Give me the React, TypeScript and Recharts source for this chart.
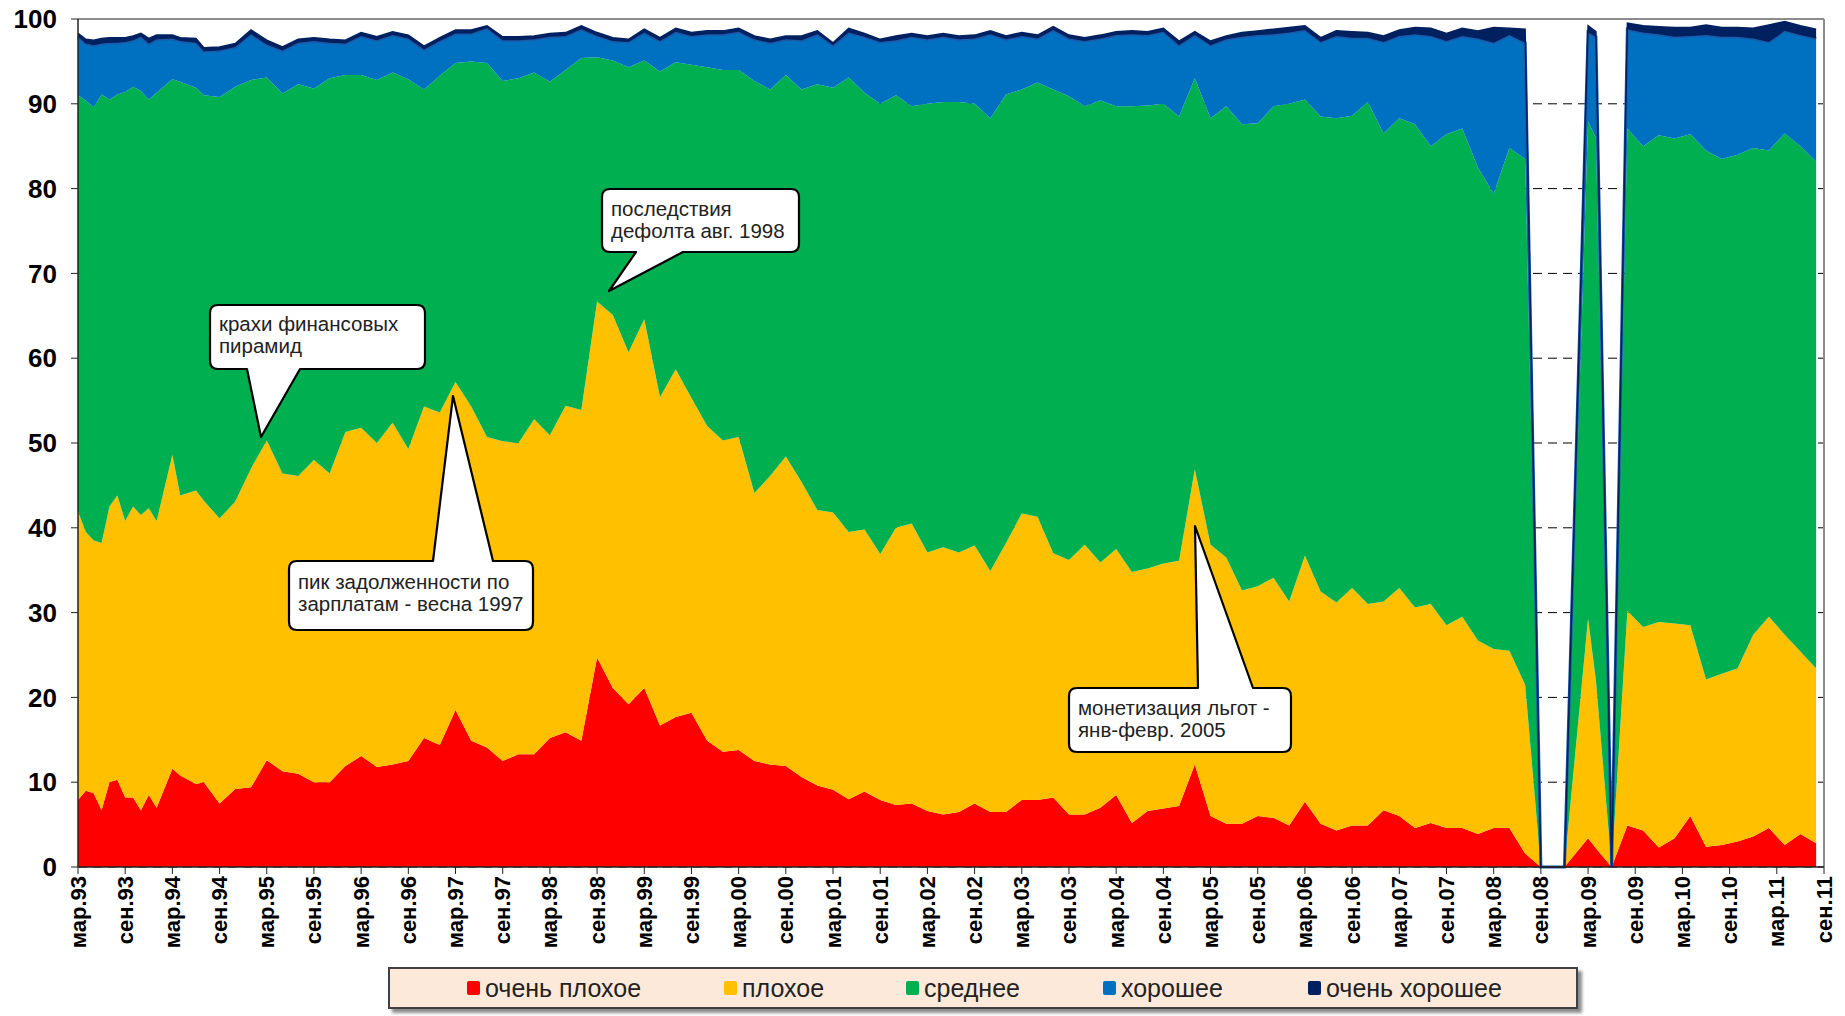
import { Area, AreaChart, CartesianGrid, ReferenceLine, XAxis, YAxis } from 'recharts';

const FONT = '"Liberation Sans", Arial, sans-serif';

// months counted from March 1993
const months = [
  0, 1, 2, 3, 4, 5, 6, 7, 8, 9, 10, 12, 13, 15, 16,
  18, 20, 22, 24, 26, 28, 30, 32, 34, 36, 38, 40, 42, 44, 46, 48, 50, 52, 54, 56,
  58, 60, 62, 64, 66, 68, 70, 72, 74, 76, 78, 80, 82, 84, 86, 88, 90, 92, 94, 96, 98, 100,
  102, 104, 106, 108, 110, 112, 114, 116, 118, 120, 122, 124, 126, 128, 130, 132, 134, 136, 138, 140,
  142, 144, 146, 148, 150, 152, 154, 156, 158, 160, 162, 164, 166, 168, 170, 172, 174, 176, 178, 180, 182, 184,
  186, 189, 192, 193, 195,
  197, 199, 201, 203, 205, 207, 209, 211, 213, 215, 217, 219, 221,
];

const veryBad = [
  7.9, 9.0, 8.7, 6.7, 10.0, 10.3, 8.2, 8.2, 6.7, 8.5, 7.0, 11.6, 10.8, 9.8, 10.0,
  7.5, 9.2, 9.4, 12.6, 11.3, 11.0, 10.0, 10.0, 11.9, 13.1, 11.8, 12.1, 12.5, 15.2, 14.4, 18.5, 14.9, 14.1, 12.5, 13.3,
  13.3, 15.2, 15.9, 14.9, 24.7, 21.1, 19.2, 21.1, 16.7, 17.7, 18.2, 14.9, 13.6, 13.8, 12.5, 12.1, 11.9, 10.6, 9.6, 9.1, 8.0, 8.9,
  7.9, 7.3, 7.5, 6.6, 6.2, 6.5, 7.5, 6.5, 6.5, 7.9, 7.9, 8.2, 6.2, 6.2, 7.0, 8.5, 5.2, 6.6, 6.9, 7.2,
  12.1, 6.0, 5.1, 5.1, 6.0, 5.8, 4.9, 7.7, 5.1, 4.3, 4.9, 4.9, 6.7, 6.0, 4.6, 5.2, 4.6, 4.6, 3.9, 4.6, 4.6, 1.6,
  0, 0, 3.4, 2.2, 0,
  4.9, 4.3, 2.3, 3.4, 6.0, 2.4, 2.6, 3.0, 3.6, 4.6, 2.6, 3.9, 2.8,
];

const bad = [
  34.0, 30.5, 29.8, 31.5, 32.5, 33.5, 32.6, 34.3, 34.8, 33.8, 33.8, 37.0, 33.0, 34.6, 33.2,
  33.6, 33.9, 37.6, 37.7, 35.1, 35.1, 38.0, 36.4, 39.4, 38.7, 38.2, 40.3, 36.8, 39.1, 39.2, 38.7, 39.4, 36.6, 37.7, 36.7,
  39.5, 35.7, 38.5, 39.0, 42.0, 44.0, 41.5, 43.5, 38.7, 41.0, 37.1, 37.1, 36.7, 36.9, 31.6, 34.0, 36.5, 34.8, 32.5, 32.7, 31.5, 30.9,
  29.0, 32.7, 33.0, 30.5, 31.5, 30.6, 30.4, 28.4, 31.7, 33.8, 33.4, 28.8, 30.0, 31.8, 28.9, 29.0, 29.6, 28.6, 28.9, 28.9,
  34.8, 32.0, 31.4, 27.5, 27.1, 28.3, 26.4, 29.0, 27.4, 26.9, 28.0, 26.1, 24.6, 26.9, 26.0, 25.8, 23.9, 24.9, 22.8, 21.1, 20.9, 19.9,
  0, 0, 25.9, 19.8, 0,
  25.3, 24.0, 26.6, 25.3, 22.5, 19.7, 20.2, 20.4, 23.8, 24.9, 24.8, 21.5, 20.6,
];

const average = [
  49.1, 50.9, 51.1, 52.9, 48.0, 47.3, 50.6, 49.5, 50.0, 48.2, 50.5, 44.3, 48.8, 47.5, 47.8,
  49.7, 48.9, 45.8, 42.8, 44.8, 46.2, 43.8, 46.6, 42.1, 41.6, 42.8, 41.3, 43.6, 37.4, 39.7, 37.6, 40.7, 44.1, 42.5, 43.0,
  40.9, 41.7, 39.6, 41.5, 28.8, 30.0, 33.6, 30.5, 38.4, 36.2, 39.3, 42.3, 43.7, 43.3, 48.6, 45.6, 45.0, 46.3, 50.2, 50.1, 53.6, 51.5,
  53.1, 51.0, 49.2, 52.9, 52.5, 53.1, 52.1, 53.4, 52.9, 50.0, 51.2, 54.7, 54.7, 51.7, 54.5, 52.2, 54.9, 54.6, 54.2, 52.4,
  46.1, 50.3, 53.2, 55.0, 54.6, 55.6, 58.7, 53.8, 56.0, 57.1, 55.7, 59.2, 55.2, 55.4, 57.0, 54.0, 57.9, 57.6, 55.8, 53.7, 59.3, 62.0,
  0, 0, 58.6, 64.0, 0,
  56.9, 56.7, 57.4, 57.2, 57.9, 62.4, 60.7, 60.6, 57.4, 55.0, 59.1, 59.6, 59.8,
];

const good = [
  6.9, 6.7, 7.3, 6.0, 6.7, 6.1, 5.9, 5.5, 6.4, 6.6, 6.3, 4.8, 4.8, 5.3, 5.2,
  5.5, 4.7, 5.4, 3.9, 5.1, 4.9, 5.6, 4.2, 3.7, 4.6, 4.7, 4.4, 4.8, 4.7, 4.1, 3.5, 3.3, 4.1, 4.8, 4.5,
  3.9, 5.3, 4.0, 3.4, 2.5, 2.3, 3.0, 3.3, 3.6, 3.6, 3.4, 3.9, 4.2, 4.5, 4.9, 5.5, 4.2, 5.8, 5.9, 5.0, 5.3, 6.6,
  7.3, 6.5, 8.2, 7.6, 7.7, 7.4, 7.7, 9.9, 6.5, 6.3, 5.2, 7.0, 6.8, 7.7, 7.3, 8.4, 8.5, 8.3, 8.5, 8.4,
  5.1, 8.6, 7.9, 10.3, 10.4, 8.5, 8.4, 8.2, 8.8, 9.7, 9.2, 7.6, 10.8, 9.7, 10.6, 13.0, 11.0, 10.9, 15.2, 17.8, 13.3, 13.7,
  0, 0, 10.5, 11.9, 0,
  11.7, 13.4, 11.9, 12.0, 11.6, 13.6, 14.4, 13.9, 12.9, 12.8, 12.1, 13.1, 14.5,
];

const veryGood = [
  0.4, 0.5, 0.6, 0.6, 0.6, 0.6, 0.5, 0.5, 0.4, 0.6, 0.5, 0.4, 0.4, 0.5, 0.4,
  0.4, 0.4, 0.5, 0.5, 0.4, 0.4, 0.4, 0.4, 0.4, 0.4, 0.4, 0.4, 0.4, 0.4, 0.4, 0.4, 0.4, 0.3, 0.4, 0.4,
  0.4, 0.4, 0.4, 0.4, 0.4, 0.4, 0.3, 0.4, 0.4, 0.4, 0.4, 0.4, 0.4, 0.4, 0.4, 0.4, 0.4, 0.5, 0.4, 0.3, 0.5, 0.4,
  0.3, 0.5, 0.4, 0.4, 0.4, 0.4, 0.4, 0.4, 0.4, 0.4, 0.4, 0.4, 0.4, 0.4, 0.4, 0.4, 0.4, 0.4, 0.4, 0.5,
  0.4, 0.5, 0.4, 0.5, 0.5, 0.6, 0.6, 0.5, 0.5, 0.6, 0.7, 0.6, 0.7, 0.7, 0.8, 0.9, 0.9, 0.9, 0.9, 1.8, 0.8, 1.6,
  0, 0, 0.8, 0.6, 0,
  0.7, 0.8, 0.9, 1.1, 1.0, 1.2, 1.1, 1.1, 1.2, 2.0, 1.1, 1.1, 1.1,
];

const tickValues = [
  0, 6, 12, 18, 24, 30, 36, 42, 48, 54, 60, 66, 72, 78, 84, 90, 96, 102, 108,
  114, 120, 126, 132, 138, 144, 150, 156, 162, 168, 174, 180, 186, 192, 198, 204, 210, 216, 222,
];
const tickLabels = [
  'мар.93', 'сен.93', 'мар.94', 'сен.94', 'мар.95', 'сен.95', 'мар.96', 'сен.96', 'мар.97', 'сен.97',
  'мар.98', 'сен.98', 'мар.99', 'сен.99', 'мар.00', 'сен.00', 'мар.01', 'сен.01', 'мар.02', 'сен.02',
  'мар.03', 'сен.03', 'мар.04', 'сен.04', 'мар.05', 'сен.05', 'мар.06', 'сен.06', 'мар.07', 'сен.07',
  'мар.08', 'сен.08', 'мар.09', 'сен.09', 'мар.10', 'сен.10', 'мар.11', 'сен.11',
];
const yTicks = [0, 10, 20, 30, 40, 50, 60, 70, 80, 90, 100];

const seriesKeys = ['veryBad', 'bad', 'average', 'good', 'veryGood'];
const seriesNames = ['очень плохое', 'плохое', 'среднее', 'хорошее', 'очень хорошее'];
const seriesColors = ['#FF0000', '#FFC000', '#00B050', '#0070C0', '#002060'];

const data = months.map((t, i) => ({
  t,
  veryBad: veryBad[i],
  bad: bad[i],
  average: average[i],
  good: good[i],
  veryGood: veryGood[i],
}));

const legendLeft = [77, 334, 516, 713, 918];

const callouts = [
  {
    d: 'M 218,305 H 417 Q 425,305 425,313 V 361 Q 425,369 417,369 H 300 L 261,437 L 247,369 H 218 Q 210,369 210,361 V 313 Q 210,305 218,305 Z',
    x: 219, y: 323, lines: ['крахи финансовых', 'пирамид'],
  },
  {
    d: 'M 297,561 H 433 L 453,396 L 493,561 H 525 Q 533,561 533,569 V 622 Q 533,630 525,630 H 297 Q 289,630 289,622 V 569 Q 289,561 297,561 Z',
    x: 298, y: 581, lines: ['пик задолженности по', 'зарплатам - весна 1997'],
  },
  {
    d: 'M 610,189 H 791 Q 799,189 799,197 V 244 Q 799,252 791,252 H 683 L 609,291 L 636,252 H 610 Q 602,252 602,244 V 197 Q 602,189 610,189 Z',
    x: 611, y: 208, lines: ['последствия', 'дефолта авг. 1998'],
  },
  {
    d: 'M 1077,688 H 1198 L 1195,526 L 1253,688 H 1283 Q 1291,688 1291,696 V 744 Q 1291,752 1283,752 H 1077 Q 1069,752 1069,744 V 696 Q 1069,688 1077,688 Z',
    x: 1078, y: 707, lines: ['монетизация льгот -', 'янв-февр. 2005'],
  },
];

function MonthTick(props: any) {
  const { x, y, payload } = props;
  const label = tickLabels[tickValues.indexOf(payload.value)];
  return (
    <text
      x={x}
      y={y}
      transform={`rotate(-90, ${x}, ${y})`}
      textAnchor="end"
      dominantBaseline="central"
      fontSize={22}
      fontWeight="bold"
      fontFamily={FONT}
      fill="#000"
    >
      {label}
    </text>
  );
}

export default function App() {
  return (
    <div style={{ position: 'absolute', left: 0, top: 0, width: 1845, height: 1016, background: '#fff', fontFamily: FONT }}>
      <AreaChart width={1845} height={1016} data={data} margin={{ top: 19, right: 21, left: 0, bottom: 0 }}>
        <CartesianGrid vertical={false} stroke="#000" strokeDasharray="9 6" />
        <XAxis
          type="number"
          dataKey="t"
          domain={[0, 222]}
          ticks={tickValues}
          interval={0}
          height={149}
          tick={<MonthTick />}
          tickSize={7}
          axisLine={{ stroke: '#222', strokeWidth: 1.5 }}
          tickLine={{ stroke: '#222' }}
        />
        <YAxis
          type="number"
          domain={[0, 100]}
          ticks={yTicks}
          interval={0}
          width={78}
          tickSize={7}
          tickMargin={14}
          axisLine={{ stroke: '#222', strokeWidth: 1.5 }}
          tickLine={{ stroke: '#222' }}
          tick={{ fontSize: 26, fontWeight: 'bold', fill: '#000', fontFamily: FONT }}
        />
        {seriesKeys.map((key, i) => (
          <Area
            key={key}
            type="linear"
            dataKey={key}
            name={seriesNames[i]}
            stackId="1"
            fill={seriesColors[i]}
            fillOpacity={1}
            stroke={i === 3 ? '#1E5AA8' : i === 4 ? '#002060' : 'none'}
            strokeWidth={i === 3 ? 3 : i === 4 ? 1.5 : 0}
            dot={false}
            activeDot={false}
            isAnimationActive={false}
          />
        ))}
        <ReferenceLine y={100} stroke="#8c8c8c" strokeWidth={2} />
        <ReferenceLine x={222} stroke="#8c8c8c" strokeWidth={2} />
      </AreaChart>

      <svg width={1845} height={1016} style={{ position: 'absolute', left: 0, top: 0, pointerEvents: 'none' }}>
        {callouts.map((c, i) => (
          <g key={i}>
            <path d={c.d} fill="#fff" stroke="#000" strokeWidth={2.2} strokeLinejoin="round" />
            {c.lines.map((line, j) => (
              <text
                key={j}
                x={c.x}
                y={c.y + j * 22}
                fontSize={20.5}
                fontFamily={FONT}
                fill="#222"
                dominantBaseline="central"
              >
                {line}
              </text>
            ))}
          </g>
        ))}
      </svg>

      <div
        style={{
          position: 'absolute',
          left: 388,
          top: 967,
          width: 1186,
          height: 38,
          background: '#FDE9D9',
          border: '2px solid #404040',
          boxShadow: '4px 4px 3px rgba(0,0,0,0.45)',
        }}
      >
        {seriesNames.map((name, i) => (
          <div
            key={name}
            style={{
              position: 'absolute',
              left: legendLeft[i],
              top: 0,
              height: 38,
              display: 'flex',
              alignItems: 'center',
              fontSize: 25,
              color: '#222',
              whiteSpace: 'nowrap',
            }}
          >
            <span
              style={{
                display: 'inline-block',
                width: 13,
                height: 14,
                background: seriesColors[i],
                borderRadius: 2,
                marginRight: 5,
              }}
            />
            {name}
          </div>
        ))}
      </div>
    </div>
  );
}
